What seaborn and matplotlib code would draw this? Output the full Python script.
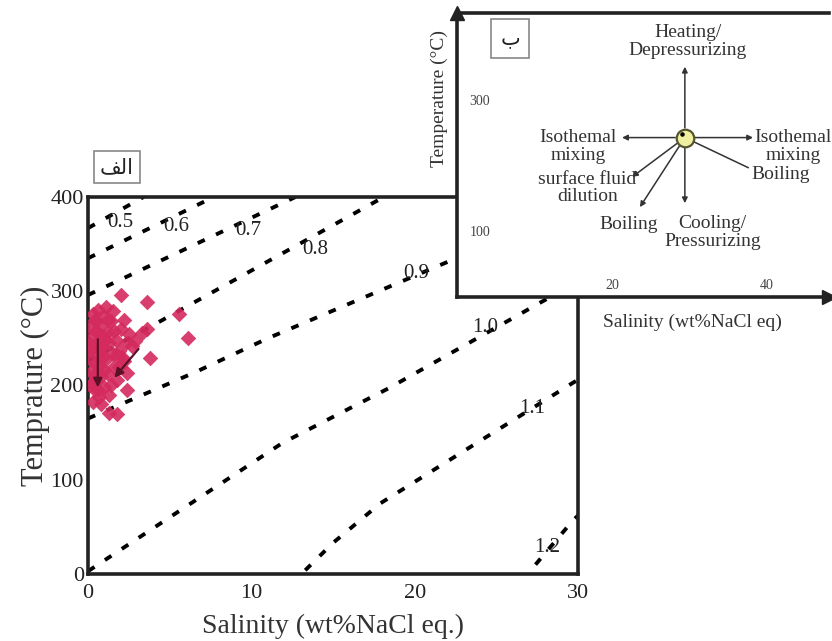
import matplotlib
matplotlib.use("Agg")
import matplotlib.pyplot as plt
import seaborn as sns
import pandas as pd

sns.set_theme(style="white")
plt.rcParams['font.family'] = ['Liberation Serif', 'DejaVu Sans']
plt.rcParams['mathtext.fontset'] = 'stix'

# ---------------- data ----------------
salinity = [0.1, 0.2, 0.3, 0.1, 0.4, 0.5, 0.6, 0.2, 0.3, 0.4, 0.6, 0.7, 0.8, 0.9, 1.0,
            0.8, 1.1, 1.2, 1.3, 1.4, 1.5, 1.6, 1.0, 0.7, 0.5, 0.9, 1.2, 1.4, 1.7, 1.9,
            2.0, 2.2, 1.8, 2.3, 0.3, 0.6, 1.1, 0.2, 0.4, 0.9, 1.3, 1.6, 2.4, 0.1, 0.5,
            0.8, 1.0, 1.2, 1.5, 2.1, 0.6, 0.3, 1.9, 0.7, 2.5, 1.05, 0.45, 0.15, 1.75, 2.2,
            2.0, 3.6, 5.6, 6.1, 3.8, 3.3, 3.6, 2.9, 2.7, 1.3, 1.8, 0.8, 2.4]
temperature = [262, 250, 240, 228, 270, 258, 246, 214, 203, 195, 232, 221, 264, 252, 240,
               210, 228, 257, 245, 268, 233, 220, 198, 188, 205, 274, 212, 200, 248, 237,
               260, 226, 206, 245, 276, 280, 283, 238, 224, 230, 190, 258, 213, 244, 268,
               240, 216, 270, 279, 230, 195, 183, 220, 255, 255, 248, 212, 200, 232, 270,
               296, 289, 276, 250, 229, 256, 260, 247, 242, 171, 170, 180, 195]

# isochores (density, g/cm3): salinity / temperature points
iso_labels = ["0.5", "0.6", "0.7", "0.8", "0.9", "1.0", "1.1", "1.2"]
iso_sal = [[0.0, 3.4],
           [0.0, 7.7],
           [0.0, 12.7],
           [0.0, 4.3, 17.8, 18.1],
           [0.0, 6.55, 11.0, 22.0, 30.0],
           [0.0, 11.9, 18.4, 27.8, 30.0],
           [13.3, 15.0, 17.9, 29.7, 30.0],
           [27.4, 29.7, 30.0]]
iso_temp = [[367, 400],
            [335, 400],
            [296, 400],
            [226, 267, 397, 400],
            [165, 214, 250, 331, 390],
            [3, 139, 197, 289, 310],
            [4, 33, 75, 203, 206],
            [10, 57, 62]]
iso_lab_x = [2.0, 5.4, 9.8, 13.9, 20.1, 24.3, 27.2, 28.1]
iso_lab_y = [373, 369, 364, 344, 319, 261, 176, 28]

x_ticks = [0, 10, 20, 30]
y_ticks = [0, 100, 200, 300, 400]
inset_x_ticks = [20, 40]
inset_y_ticks = [100, 300]

pink = "#d42a5e"
maroon = "#5a1026"

fig = plt.figure(figsize=(8.32, 6.41), dpi=100)
ax = fig.add_axes([0.1058, 0.1045, 0.5889, 0.5882])

# isochores
for lab, xs, ys in zip(iso_labels, iso_sal, iso_temp):
    df = pd.DataFrame({"sal": xs, "T": ys})
    sns.lineplot(data=df, x="sal", y="T", ax=ax, sort=False, color="black",
                 linewidth=2.8, linestyle=(0, (2.0, 3.2)), zorder=2)
for lab, lx, ly in zip(iso_labels, iso_lab_x, iso_lab_y):
    ax.text(lx, ly, lab, fontsize=15, ha="center", va="center", color="#222222", zorder=3)

# fluid inclusion data
pts = pd.DataFrame({"Salinity": salinity, "Temperature": temperature})
sns.scatterplot(data=pts, x="Salinity", y="Temperature", ax=ax, marker="D", s=55,
                color=pink, edgecolor=pink, linewidth=0.5, alpha=0.9, zorder=4)

# trend arrows
for (x0, y0), (x1, y1) in [((0.6, 252), (0.6, 195)), ((3.2, 241), (1.5, 206))]:
    a = ax.annotate("", xy=(x1, y1), xytext=(x0, y0),
                    arrowprops=dict(arrowstyle="-|>", color=maroon, lw=1.6, mutation_scale=13))
    a.set_zorder(6)

ax.set_xlim(0, 30)
ax.set_ylim(0, 400)
ax.set_xticks(x_ticks)
ax.set_yticks(y_ticks)
ax.set_xticklabels([str(v) for v in x_ticks], fontsize=16)
ax.set_yticklabels([str(v) for v in y_ticks], fontsize=16)
ax.tick_params(direction="in", length=7, width=2, colors="#222222")
ax.tick_params(axis="x", pad=7)
ax.tick_params(axis="y", pad=3)
ax.set_xlabel("Salinity (wt%NaCl eq.)", fontsize=20, color="#333333", labelpad=8)
ax.set_ylabel("Temprature (°C)", fontsize=22, color="#333333", labelpad=0)
for sp in ax.spines.values():
    sp.set_linewidth(2.6)
    sp.set_color("#222222")
    sp.set_visible(True)

ax.text(1.78, 432, "\uFED2\uFEDF\uFE8D", fontsize=15, ha="center", va="center",
        family=["DejaVu Sans"], color="#222222", clip_on=False,
        bbox=dict(boxstyle="square,pad=0.3", fc="white", ec="#888888", lw=1.2))

# ---------------- inset ----------------
axin = fig.add_axes([0.5493, 0.5367, 0.4471, 0.4431])
axin.set_zorder(5)
axin.set_facecolor("white")
axin.set_xlim(0, 48)
axin.set_ylim(0, 433)
for side in ["left", "bottom", "top"]:
    axin.spines[side].set_linewidth(2.6)
    axin.spines[side].set_color("#222222")
    axin.spines[side].set_visible(True)
axin.spines["right"].set_visible(False)
axin.plot(1.0, 0, ">", color="#222222", markersize=10, transform=axin.get_yaxis_transform(), clip_on=False)
axin.plot(0, 1.0, "^", color="#222222", markersize=10, transform=axin.get_xaxis_transform(), clip_on=False)
axin.set_xticks(inset_x_ticks)
axin.set_yticks(inset_y_ticks)
axin.set_xticklabels([str(v) for v in inset_x_ticks], fontsize=10, color="#444444")
axin.set_yticklabels([str(v) for v in inset_y_ticks], fontsize=10, color="#444444")
axin.tick_params(axis="x", direction="in", length=7, width=2, pad=-13)
axin.tick_params(axis="y", direction="in", length=6, width=2, pad=-24)
axin.set_xlabel("")
axin.set_ylabel("")
axin.text(0.634, -0.088, "Salinity (wt%NaCl eq)", fontsize=14, color="#333333",
          ha="center", va="center", transform=axin.transAxes, clip_on=False)
axin.text(-0.048, 0.70, "Temperature (°C)", fontsize=14, color="#333333", rotation=90,
          ha="center", va="center", transform=axin.transAxes, clip_on=False)

cx, cy = 29.4, 243
arrow_ends = [(29.4, 351), (29.4, 143), (21.3, 243), (38.2, 243), (23.6, 137), (22.6, 183)]
for ex, ey in arrow_ends:
    axin.annotate("", xy=(ex, ey), xytext=(cx, cy),
                  arrowprops=dict(arrowstyle="-|>", color="#333333", lw=1.1,
                                  mutation_scale=8, shrinkA=7, shrinkB=0))
axin.annotate("", xy=(37.6, 197), xytext=(cx, cy),
              arrowprops=dict(arrowstyle="-", color="#333333", lw=1.1, shrinkA=7, shrinkB=0))
axin.scatter([cx], [cy], s=160, facecolor="#eef0a0", edgecolor="#555530", linewidth=1.6, zorder=6)
axin.scatter([cx - 0.4], [cy + 6], s=5, color="black", zorder=7)

txt = dict(fontsize=14, color="#333333", ha="center", va="center", linespacing=1.05)
axin.text(29.8, 389, "Heating/\nDepressurizing", **txt)
axin.text(33.0, 98, "Cooling/\nPressurizing", **txt)
axin.text(15.6, 229, "Isothemal\nmixing", **txt)
axin.text(43.4, 229, "Isothemal\nmixing", clip_on=False, **txt)
axin.text(41.7, 186, "Boiling", **txt)
axin.text(16.8, 166, "surface fluid\ndilution", **txt)
axin.text(22.1, 110, "Boiling", **txt)
axin.text(6.84, 394, "\uFE8F", fontsize=15, ha="center", va="center",
          family=["DejaVu Sans"], color="#222222",
          bbox=dict(boxstyle="square,pad=0.45", fc="white", ec="#888888", lw=1.2))

fig.savefig("out.png", dpi=100)
